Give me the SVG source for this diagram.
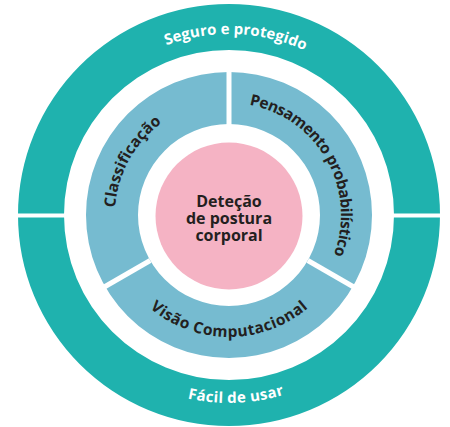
<svg xmlns="http://www.w3.org/2000/svg" width="450" height="427" viewBox="0 0 450 427">
  <style>
    .teal { fill: #1fb2ae; }
    .blue { fill: #76bbd0; }
    .pink { fill: #f5b3c4; }
    .gap { stroke: #ffffff; fill: none; }
    .outer { font-family: "Open Sans", "Liberation Sans", sans-serif; font-weight: 700; font-size: 15px; fill: #ffffff; }
    .inner { font-family: "Open Sans", "Liberation Sans", sans-serif; font-weight: 700; font-size: 15.5px; fill: #231f20; }
    .center { font-family: "Open Sans", "Liberation Sans", sans-serif; font-weight: 700; font-size: 16px; fill: #231f20; }
  </style>
  <defs>
    <path id="arcTop" d="M 48,215 A 181 181 0 0 1 410,215"/>
    <path id="arcBottom" d="M 41,215 A 188 188 0 0 0 417,215"/>
    <path id="arcLeft" d="M 130.27,272 A 114 114 0 0 1 229,101"/>
    <path id="arcRight" d="M 229,103 A 112 112 0 0 1 326,271"/>
    <path id="arcBot" d="M 123.34,276 A 122 122 0 0 0 334.66,276"/>
  </defs>
  <rect width="450" height="427" fill="#ffffff"/>

  <g id="outer-ring">
    <path class="teal" fill-rule="evenodd" d="M 18,215 A 211 211 0 1 0 440,215 A 211 211 0 1 0 18,215 Z M 64,215 A 165 165 0 1 0 394,215 A 165 165 0 1 0 64,215 Z"/>
  </g>

  <g id="seguro">
    <text class="outer" text-anchor="middle"><textPath href="#arcTop" startOffset="51.2%" textLength="142" lengthAdjust="spacing">Seguro e protegido</textPath></text>
  </g>

  <g id="facil">
    <text class="outer" text-anchor="middle"><textPath href="#arcBottom" startOffset="51.2%" textLength="98" lengthAdjust="spacing">Fácil de usar</textPath></text>
  </g>

  <g id="blue-ring">
    <path class="blue" fill-rule="evenodd" d="M 86,215 A 143 143 0 1 0 372,215 A 143 143 0 1 0 86,215 Z M 138,215 A 91 91 0 1 0 320,215 A 91 91 0 1 0 138,215 Z"/>
  </g>

  <g id="connectors">
    <line class="gap" stroke-width="4" x1="14" y1="215.5" x2="66" y2="215.5"/>
    <line class="gap" stroke-width="4" x1="392" y1="215.5" x2="444" y2="215.5"/>
    <line class="gap" stroke-width="5" x1="229" y1="70" x2="229" y2="126"/>
    <line class="gap" stroke-width="5" x1="150.2" y1="260.5" x2="103.4" y2="287.5"/>
    <line class="gap" stroke-width="5" x1="307.8" y1="260.5" x2="354.6" y2="287.5"/>
  </g>

  <g id="classificacao">
    <text class="inner" text-anchor="middle"><textPath href="#arcLeft" startOffset="49%" textLength="100" lengthAdjust="spacing">Classificação</textPath></text>
  </g>

  <g id="pensamento">
    <text class="inner" text-anchor="middle"><textPath href="#arcRight" startOffset="50.5%" textLength="196" lengthAdjust="spacing">Pensamento probabilístico</textPath></text>
  </g>

  <g id="visao">
    <text class="inner" text-anchor="middle"><textPath href="#arcBot" startOffset="50%" textLength="172" lengthAdjust="spacing">Visão Computacional</textPath></text>
  </g>

  <g id="deteccao">
    <circle class="pink" cx="229" cy="216" r="73.5"/>
    <text class="center" text-anchor="middle" x="229" y="206.5">Deteção</text>
    <text class="center" text-anchor="middle" x="229" y="224">de postura</text>
    <text class="center" text-anchor="middle" x="229" y="241.3">corporal</text>
  </g>
</svg>
